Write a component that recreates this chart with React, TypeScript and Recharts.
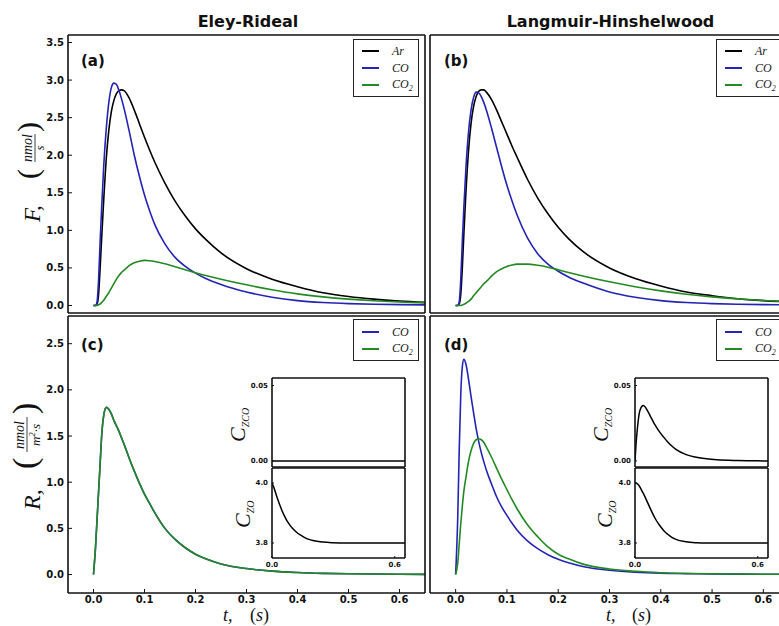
import { LineChart, Line, XAxis, YAxis, Legend, CartesianGrid } from 'recharts'

// time grid shared by the four main panels (s)
const T = [0, 0.004, 0.007, 0.01, 0.013, 0.016, 0.02, 0.025, 0.03, 0.035, 0.04, 0.045, 0.05, 0.055, 0.06, 0.07, 0.08, 0.09, 0.1, 0.11, 0.12, 0.14, 0.16, 0.18, 0.2, 0.22, 0.25, 0.3, 0.35, 0.4, 0.45, 0.5, 0.55, 0.6, 0.65]

// (a) Eley-Rideal, outlet flow F (nmol/s)
const arA = [0, 0, 0.02, 0.15, 0.5, 0.9, 1.4, 1.95, 2.33, 2.58, 2.73, 2.82, 2.86, 2.87, 2.86, 2.76, 2.6, 2.42, 2.24, 2.07, 1.91, 1.63, 1.39, 1.19, 1.02, 0.88, 0.7, 0.49, 0.35, 0.25, 0.17, 0.12, 0.085, 0.06, 0.042]
const coA = [0, 0, 0.05, 0.35, 0.85, 1.3, 1.85, 2.35, 2.7, 2.9, 2.96, 2.94, 2.86, 2.75, 2.62, 2.32, 2.0, 1.72, 1.47, 1.26, 1.08, 0.82, 0.64, 0.52, 0.43, 0.36, 0.28, 0.18, 0.11, 0.065, 0.04, 0.025, 0.016, 0.011, 0.008]
const co2A = [0, 0, 0, 0.01, 0.02, 0.04, 0.07, 0.12, 0.17, 0.23, 0.29, 0.35, 0.4, 0.44, 0.47, 0.53, 0.57, 0.59, 0.6, 0.595, 0.585, 0.555, 0.515, 0.475, 0.435, 0.4, 0.35, 0.275, 0.21, 0.155, 0.115, 0.085, 0.063, 0.047, 0.035]

// (b) Langmuir-Hinshelwood, outlet flow F
const arB = [0, 0, 0.02, 0.15, 0.5, 0.95, 1.5, 2.05, 2.42, 2.65, 2.78, 2.85, 2.87, 2.87, 2.84, 2.74, 2.6, 2.44, 2.28, 2.12, 1.97, 1.68, 1.43, 1.22, 1.04, 0.89, 0.71, 0.5, 0.36, 0.26, 0.18, 0.13, 0.09, 0.065, 0.048]
const coB = [0, 0, 0.05, 0.35, 0.85, 1.3, 1.82, 2.3, 2.6, 2.77, 2.84, 2.83, 2.78, 2.7, 2.6, 2.36, 2.1, 1.84, 1.6, 1.39, 1.2, 0.9, 0.69, 0.55, 0.455, 0.38, 0.295, 0.18, 0.11, 0.065, 0.04, 0.025, 0.016, 0.011, 0.008]
const co2B = [0, 0, 0, 0, 0.005, 0.015, 0.03, 0.055, 0.085, 0.13, 0.17, 0.21, 0.25, 0.29, 0.32, 0.39, 0.45, 0.49, 0.52, 0.54, 0.55, 0.55, 0.535, 0.51, 0.475, 0.44, 0.39, 0.315, 0.25, 0.195, 0.15, 0.115, 0.088, 0.067, 0.05]

// (c) Eley-Rideal, rate R: CO and CO2 coincide
const rateC = [0, 0.3, 0.6, 0.9, 1.2, 1.5, 1.72, 1.81, 1.79, 1.74, 1.67, 1.61, 1.55, 1.48, 1.41, 1.26, 1.12, 0.99, 0.87, 0.77, 0.67, 0.5, 0.38, 0.29, 0.22, 0.17, 0.115, 0.065, 0.037, 0.022, 0.013, 0.008, 0.005, 0.003, 0.002]

// (d) Langmuir-Hinshelwood, rate R
const coD = [0, 0.6, 1.35, 1.95, 2.25, 2.33, 2.28, 2.12, 1.93, 1.75, 1.58, 1.44, 1.32, 1.22, 1.13, 0.98, 0.84, 0.73, 0.64, 0.555, 0.48, 0.365, 0.28, 0.215, 0.165, 0.127, 0.085, 0.047, 0.026, 0.015, 0.01, 0.006, 0.004, 0.003, 0.002]
const co2D = [0, 0.12, 0.33, 0.55, 0.74, 0.9, 1.05, 1.22, 1.34, 1.42, 1.46, 1.47, 1.46, 1.43, 1.38, 1.27, 1.15, 1.03, 0.92, 0.81, 0.71, 0.54, 0.41, 0.3, 0.22, 0.17, 0.11, 0.06, 0.035, 0.02, 0.012, 0.008, 0.005, 0.003, 0.002]

// insets: surface concentrations
const TI = [0, 0.005, 0.01, 0.02, 0.03, 0.04, 0.05, 0.06, 0.07, 0.08, 0.09, 0.1, 0.12, 0.14, 0.16, 0.18, 0.2, 0.25, 0.3, 0.35, 0.4, 0.5, 0.6, 0.65]
const zcoC = [0, 0, 0, 0, 0, 0, 0, 0, 0, 0, 0, 0, 0, 0, 0, 0, 0, 0, 0, 0, 0, 0, 0, 0]
const zoC = [4.0, 3.992, 3.983, 3.962, 3.942, 3.923, 3.906, 3.891, 3.878, 3.867, 3.857, 3.849, 3.836, 3.826, 3.818, 3.812, 3.808, 3.803, 3.801, 3.8, 3.8, 3.8, 3.8, 3.8]
const zcoD = [0, 0.011, 0.019, 0.031, 0.0355, 0.0368, 0.0358, 0.0335, 0.031, 0.0284, 0.0258, 0.0235, 0.0193, 0.0158, 0.0126, 0.0099, 0.0077, 0.0042, 0.0024, 0.0014, 0.0008, 0.0003, 0.0001, 0]
const zoD = [4.0, 4.0, 3.998, 3.991, 3.979, 3.966, 3.952, 3.937, 3.922, 3.907, 3.893, 3.88, 3.859, 3.842, 3.829, 3.819, 3.812, 3.804, 3.801, 3.8, 3.8, 3.8, 3.8, 3.8]

const X_TICKS = [0, 0.1, 0.2, 0.3, 0.4, 0.5, 0.6]
const F_TICKS = [0, 0.5, 1.0, 1.5, 2.0, 2.5, 3.0, 3.5]
const R_TICKS = [0, 0.5, 1.0, 1.5, 2.0, 2.5]

const BLACK = '#000000'
const BLUE = '#2424b4'
const GREEN = '#238a23'

const SANS = '"DejaVu Sans", sans-serif'
const SERIF = '"Liberation Serif", "DejaVu Serif", serif'

function build(ts: number[], cols: Record<string, number[]>) {
  return ts.map((t, i) => {
    const r: Record<string, number> = { t }
    for (const k in cols) r[k] = cols[k][i]
    return r
  })
}

const dataA = build(T, { ar: arA, co: coA, co2: co2A })
const dataB = build(T, { ar: arB, co: coB, co2: co2B })
const dataC = build(T, { co: rateC, co2: rateC })
const dataD = build(T, { co: coD, co2: co2D })
const dataIC = build(TI, { zco: zcoC, zo: zoC })
const dataID = build(TI, { zco: zcoD, zo: zoD })

const frame = { stroke: '#111', strokeWidth: 1.6 }
const tickLn = { stroke: '#111', strokeWidth: 1 }
const tickTxt = { fill: '#111', fontSize: 10, fontWeight: 700, fontFamily: SANS }
const tinyTxt = { fill: '#111', fontSize: 7, fontWeight: 700, fontFamily: SANS }
const f1 = (v: number) => v.toFixed(1)
const f2 = (v: number) => v.toFixed(2)

type Series = { key: string; name: string; color: string }
const S_F: Series[] = [
  { key: 'ar', name: 'Ar', color: BLACK },
  { key: 'co', name: 'CO', color: BLUE },
  { key: 'co2', name: 'CO2', color: GREEN },
]
const S_R: Series[] = [
  { key: 'co', name: 'CO', color: BLUE },
  { key: 'co2', name: 'CO2', color: GREEN },
]

function legendBox(height: number, padTop: number) {
  return (props: any) => (
    <div style={{ width: 66, height, boxSizing: 'border-box', border: '1px solid #222', background: '#fff', paddingTop: padTop }}>
      {(props.payload || []).map((p: any) => (
        <div key={p.value} style={{ height: 17, display: 'flex', alignItems: 'center' }}>
          <span style={{ display: 'inline-block', width: 17, borderTop: `2px solid ${p.color}`, marginLeft: 8 }} />
          <span style={{ marginLeft: 13, fontFamily: SERIF, fontStyle: 'italic', fontSize: 12, color: '#222', lineHeight: '12px' }}>
            {p.value === 'CO2' ? (<>CO<span style={{ fontSize: 8, position: 'relative', top: 3 }}>2</span></>) : p.value}
          </span>
        </div>
      ))}
    </div>
  )
}

type PanelProps = {
  left: number; top: number; width: number; height: number
  margin: { top: number; right: number; bottom: number; left: number }
  yw: number; xh: number; data: any[]; series: Series[]
  yDomain: [number, number]; yTicks: number[]
  xLabels: boolean; yLabels: boolean
  legend: { left: number; top: number; height: number; pad: number }
}

function Panel(p: PanelProps) {
  return (
    <div style={{ position: 'absolute', left: p.left, top: p.top }}>
      <LineChart width={p.width} height={p.height} data={p.data} margin={p.margin}>
        <XAxis xAxisId="b" type="number" dataKey="t" domain={[-0.05, 0.65]} ticks={X_TICKS} allowDataOverflow
          height={p.xh} tickSize={-4} tickMargin={7} tick={p.xLabels ? tickTxt : false} tickFormatter={f1}
          axisLine={frame} tickLine={tickLn} interval={0} />
        <XAxis xAxisId="t" orientation="top" type="number" dataKey="t" domain={[-0.05, 0.65]} ticks={X_TICKS} allowDataOverflow
          height={1} tickSize={-4} tick={false} axisLine={frame} tickLine={tickLn} interval={0} />
        <YAxis yAxisId="l" type="number" domain={p.yDomain} ticks={p.yTicks} allowDataOverflow
          width={p.yw} tickSize={-4} tickMargin={8} tick={p.yLabels ? tickTxt : false} tickFormatter={f1}
          axisLine={frame} tickLine={tickLn} interval={0} />
        <YAxis yAxisId="r" orientation="right" type="number" domain={p.yDomain} ticks={p.yTicks} allowDataOverflow
          width={1} tickSize={-4} tick={false} axisLine={frame} tickLine={tickLn} interval={0} />
        {p.series.map(s => (
          <Line key={s.key} xAxisId="b" yAxisId="l" type="monotone" dataKey={s.key} name={s.name}
            stroke={s.color} strokeWidth={1.6} dot={false} isAnimationActive={false} />
        ))}
        <Legend layout="horizontal" verticalAlign="middle" align="center"
          wrapperStyle={{ left: p.legend.left, top: p.legend.top, width: 66 }}
          content={legendBox(p.legend.height, p.legend.pad)} />
      </LineChart>
    </div>
  )
}

type InsetProps = {
  left: number; top: number; height: number
  margin: { top: number; right: number; bottom: number; left: number }
  xh: number; data: any[]; dataKey: string
  yDomain: [number, number]; yTicks: number[]; fmt: (v: number) => string; xLabels: boolean
}

function Inset(p: InsetProps) {
  return (
    <div style={{ position: 'absolute', left: p.left, top: p.top }}>
      <LineChart width={170} height={p.height} data={p.data} margin={p.margin}>
        <CartesianGrid xAxisId="b" yAxisId="l" fill="#fff" stroke="none" horizontal={false} vertical={false} />
        <XAxis xAxisId="b" type="number" dataKey="t" domain={[0, 0.65]} ticks={[0, 0.6]} allowDataOverflow
          height={p.xh} tickSize={-2} tickMargin={6} tick={p.xLabels ? tinyTxt : false} tickFormatter={f1}
          axisLine={frame} tickLine={tickLn} interval={0} />
        <XAxis xAxisId="t" orientation="top" type="number" dataKey="t" domain={[0, 0.65]} ticks={[0, 0.6]} allowDataOverflow
          height={1} tickSize={-2} tick={false} axisLine={frame} tickLine={tickLn} interval={0} />
        <YAxis yAxisId="l" type="number" domain={p.yDomain} ticks={p.yTicks} allowDataOverflow
          width={32} tickSize={-2} tickMargin={6} tick={tinyTxt} tickFormatter={p.fmt}
          axisLine={frame} tickLine={tickLn} interval={0} />
        <YAxis yAxisId="r" orientation="right" type="number" domain={p.yDomain} ticks={p.yTicks} allowDataOverflow
          width={1} tickSize={-2} tick={false} axisLine={frame} tickLine={tickLn} interval={0} />
        <Line xAxisId="b" yAxisId="l" type="monotone" dataKey={p.dataKey} stroke={BLACK} strokeWidth={1.5}
          dot={false} isAnimationActive={false} />
      </LineChart>
    </div>
  )
}

function Labels() {
  const it = { fontFamily: SERIF, fontStyle: 'italic' as const, fill: '#111' }
  const up = { fontFamily: SERIF, fill: '#111' }
  const bold = { fontFamily: SANS, fontWeight: 700, fill: '#111' }
  return (
    <svg width={779} height={626} style={{ position: 'absolute', left: 0, top: 0, pointerEvents: 'none' }}>
      <text x={248} y={27} textAnchor="middle" fontSize={16} {...bold}>Eley-Rideal</text>
      <text x={610.5} y={27} textAnchor="middle" fontSize={16} {...bold}>Langmuir-Hinshelwood</text>
      <text x={81} y={66} fontSize={15} {...bold}>(a)</text>
      <text x={444} y={66} fontSize={15} {...bold}>(b)</text>
      <text x={81} y={350} fontSize={15} {...bold}>(c)</text>
      <text x={444} y={350} fontSize={15} {...bold}>(d)</text>

      <g transform="translate(40,175) rotate(-90)">
        <text x={-47} y={0} fontSize={23} {...it}>F,</text>
        <text x={-4} y={-2} fontSize={30} fontWeight={300} {...up}>(</text>
        <text x={27} y={-8} fontSize={14} textAnchor="middle" {...it}>nmol</text>
        <line x1={13} x2={41} y1={-5} y2={-5} stroke="#111" strokeWidth={0.8} />
        <text x={27} y={4} fontSize={12} textAnchor="middle" {...it}>s</text>
        <text x={43} y={-2} fontSize={30} fontWeight={300} {...up}>)</text>
      </g>

      <g transform="translate(40,454) rotate(-90)">
        <text x={-56} y={0} fontSize={24} {...it}>R,</text>
        <text x={-15} y={-4} fontSize={34} fontWeight={300} {...up}>(</text>
        <text x={19} y={-16} fontSize={14} textAnchor="middle" {...it}>nmol</text>
        <line x1={2} x2={37} y1={-13} y2={-13} stroke="#111" strokeWidth={0.8} />
        <text x={19} y={0} fontSize={13} textAnchor="middle" {...it}>m<tspan dy={-5} fontSize={9}>2</tspan><tspan dy={5}>·s</tspan></text>
        <text x={40} y={-4} fontSize={34} fontWeight={300} {...up}>)</text>
      </g>

      <text x={223} y={621} fontSize={18} {...it}>t,</text>
      <text x={250} y={621} fontSize={18} {...up}>(<tspan fontStyle="italic">s</tspan>)</text>
      <text x={606} y={621} fontSize={18} {...it}>t,</text>
      <text x={632} y={621} fontSize={18} {...up}>(<tspan fontStyle="italic">s</tspan>)</text>

      <g transform="translate(245,442) rotate(-90)">
        <text x={0} y={0} fontSize={22} {...it}>C<tspan dy={4} fontSize={10}>ZCO</tspan></text>
      </g>
      <g transform="translate(250,528) rotate(-90)">
        <text x={0} y={0} fontSize={22} {...it}>C<tspan dy={4} fontSize={10}>ZO</tspan></text>
      </g>
      <g transform="translate(608,442) rotate(-90)">
        <text x={0} y={0} fontSize={22} {...it}>C<tspan dy={4} fontSize={10}>ZCO</tspan></text>
      </g>
      <g transform="translate(612,528) rotate(-90)">
        <text x={0} y={0} fontSize={22} {...it}>C<tspan dy={4} fontSize={10}>ZO</tspan></text>
      </g>
    </svg>
  )
}

export default function App() {
  return (
    <div style={{ position: 'fixed', left: 0, top: 0, width: 779, height: 626, overflow: 'hidden', background: '#fff' }}>
      <Panel left={0} top={0} width={428} height={316} margin={{ top: 34, right: 2, bottom: 2, left: 0 }}
        yw={68} xh={1} data={dataA} series={S_F} yDomain={[-0.1, 3.6]} yTicks={F_TICKS}
        xLabels={false} yLabels legend={{ left: 353, top: 39, height: 58, pad: 2.5 }} />
      <Panel left={428} top={0} width={365} height={316} margin={{ top: 34, right: 3, bottom: 2, left: 1 }}
        yw={1} xh={1} data={dataB} series={S_F} yDomain={[-0.1, 3.6]} yTicks={F_TICKS}
        xLabels={false} yLabels={false} legend={{ left: 288, top: 39, height: 58, pad: 2.5 }} />
      <Panel left={0} top={313} width={428} height={313} margin={{ top: 2, right: 2, bottom: 0, left: 0 }}
        yw={68} xh={33} data={dataC} series={S_R} yDomain={[-0.2, 2.8]} yTicks={R_TICKS}
        xLabels yLabels legend={{ left: 353, top: 6, height: 42, pad: 3.5 }} />
      <Panel left={428} top={313} width={365} height={313} margin={{ top: 2, right: 3, bottom: 0, left: 1 }}
        yw={1} xh={33} data={dataD} series={S_R} yDomain={[-0.2, 2.8]} yTicks={R_TICKS}
        xLabels yLabels={false} legend={{ left: 288, top: 6, height: 42, pad: 3.5 }} />

      <Inset left={240} top={370} height={100} margin={{ top: 7, right: 4, bottom: 2, left: 0 }} xh={1}
        data={dataIC} dataKey="zco" yDomain={[-0.004, 0.055]} yTicks={[0, 0.05]} fmt={f2} xLabels={false} />
      <Inset left={240} top={466} height={110} margin={{ top: 1, right: 4, bottom: 4, left: 0 }} xh={14}
        data={dataIC} dataKey="zo" yDomain={[3.75, 4.05]} yTicks={[3.8, 4.0]} fmt={f1} xLabels />
      <Inset left={603} top={370} height={100} margin={{ top: 7, right: 4, bottom: 2, left: 0 }} xh={1}
        data={dataID} dataKey="zco" yDomain={[-0.004, 0.055]} yTicks={[0, 0.05]} fmt={f2} xLabels={false} />
      <Inset left={603} top={466} height={110} margin={{ top: 1, right: 4, bottom: 4, left: 0 }} xh={14}
        data={dataID} dataKey="zo" yDomain={[3.75, 4.05]} yTicks={[3.8, 4.0]} fmt={f1} xLabels />

      <Labels />
    </div>
  )
}
